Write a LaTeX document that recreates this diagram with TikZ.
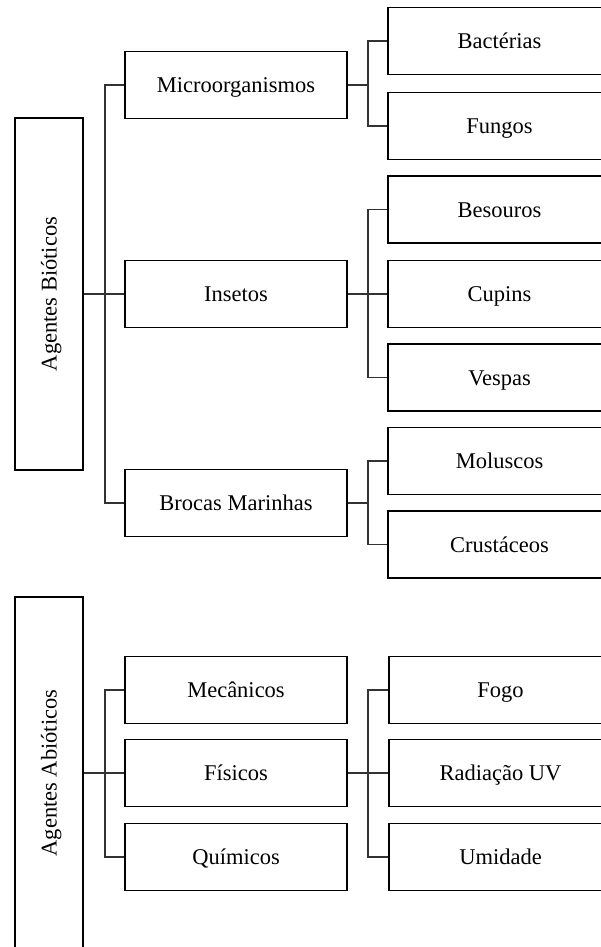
\documentclass[tikz,border=0pt]{standalone}
\usepackage{fontspec}
\setmainfont{Liberation Serif}
\begin{document}
\begin{tikzpicture}[x=1pt,y=-1pt,
  box/.style={draw=black, line width=1.2pt, rectangle, inner sep=0pt,
    text height=20pt, text depth=5pt,
    font=\fontsize{22.5}{26}\selectfont},
  mid/.style={box, minimum width=222pt, minimum height=67pt},
  leaf/.style={box, minimum width=223pt, minimum height=67pt},
  root/.style={box, rotate=90, minimum width=352pt, minimum height=68pt},
  link/.style={line width=1.2pt, draw=black!80}]
\useasboundingbox (0,0) rectangle (600,947);
% roots
\node[root] (bio) at (49,294) {Agentes Bióticos};
\node[root] (abio) at (49,773) {Agentes Abióticos};
% middle column
\node[mid] (micro) at (236,85) {Microorganismos};
\node[mid] (ins) at (236,294) {Insetos};
\node[mid] (broc) at (236,503) {Brocas Marinhas};
\node[mid] (mec) at (236,690) {Mecânicos};
\node[mid] (fis) at (236,773) {Físicos};
\node[mid] (qui) at (236,857) {Químicos};
% leaves
\node[leaf] (bact) at (499.5,41) {Bactérias};
\node[leaf] (fung) at (499.5,126) {Fungos};
\node[leaf] (bes) at (499.5,209.5) {Besouros};
\node[leaf] (cup) at (499.5,294) {Cupins};
\node[leaf] (vesp) at (499.5,377.5) {Vespas};
\node[leaf] (mol) at (499.5,461) {Moluscos};
\node[leaf] (crus) at (499.5,544.5) {Crustáceos};
\node[leaf] (fogo) at (500.5,690) {Fogo};
\node[leaf] (rad) at (500.5,773) {Radiação UV};
\node[leaf] (umid) at (500.5,857) {Umidade};
% branch points
\coordinate (tb) at (105,294);
\coordinate (ab) at (105,773);
\coordinate (mb) at (368,85);
\coordinate (ib) at (368,294);
\coordinate (bb) at (368,503);
\coordinate (fb) at (368,773);
% connectors
\draw[link] (bio.south) -- (ins.west);
\draw[link] (micro.west) -| (tb) |- (broc.west);
\draw[link] (abio.south) -- (fis.west);
\draw[link] (mec.west) -| (ab) |- (qui.west);
\draw[link] (micro.east) -- (mb);
\draw[link] (bact.west) -| (mb) |- (fung.west);
\draw[link] (ins.east) -- (cup.west);
\draw[link] (bes.west) -| (ib) |- (vesp.west);
\draw[link] (broc.east) -- (bb);
\draw[link] (mol.west) -| (bb) |- (crus.west);
\draw[link] (fis.east) -- (rad.west);
\draw[link] (fogo.west) -| (fb) |- (umid.west);
\end{tikzpicture}
\end{document}
